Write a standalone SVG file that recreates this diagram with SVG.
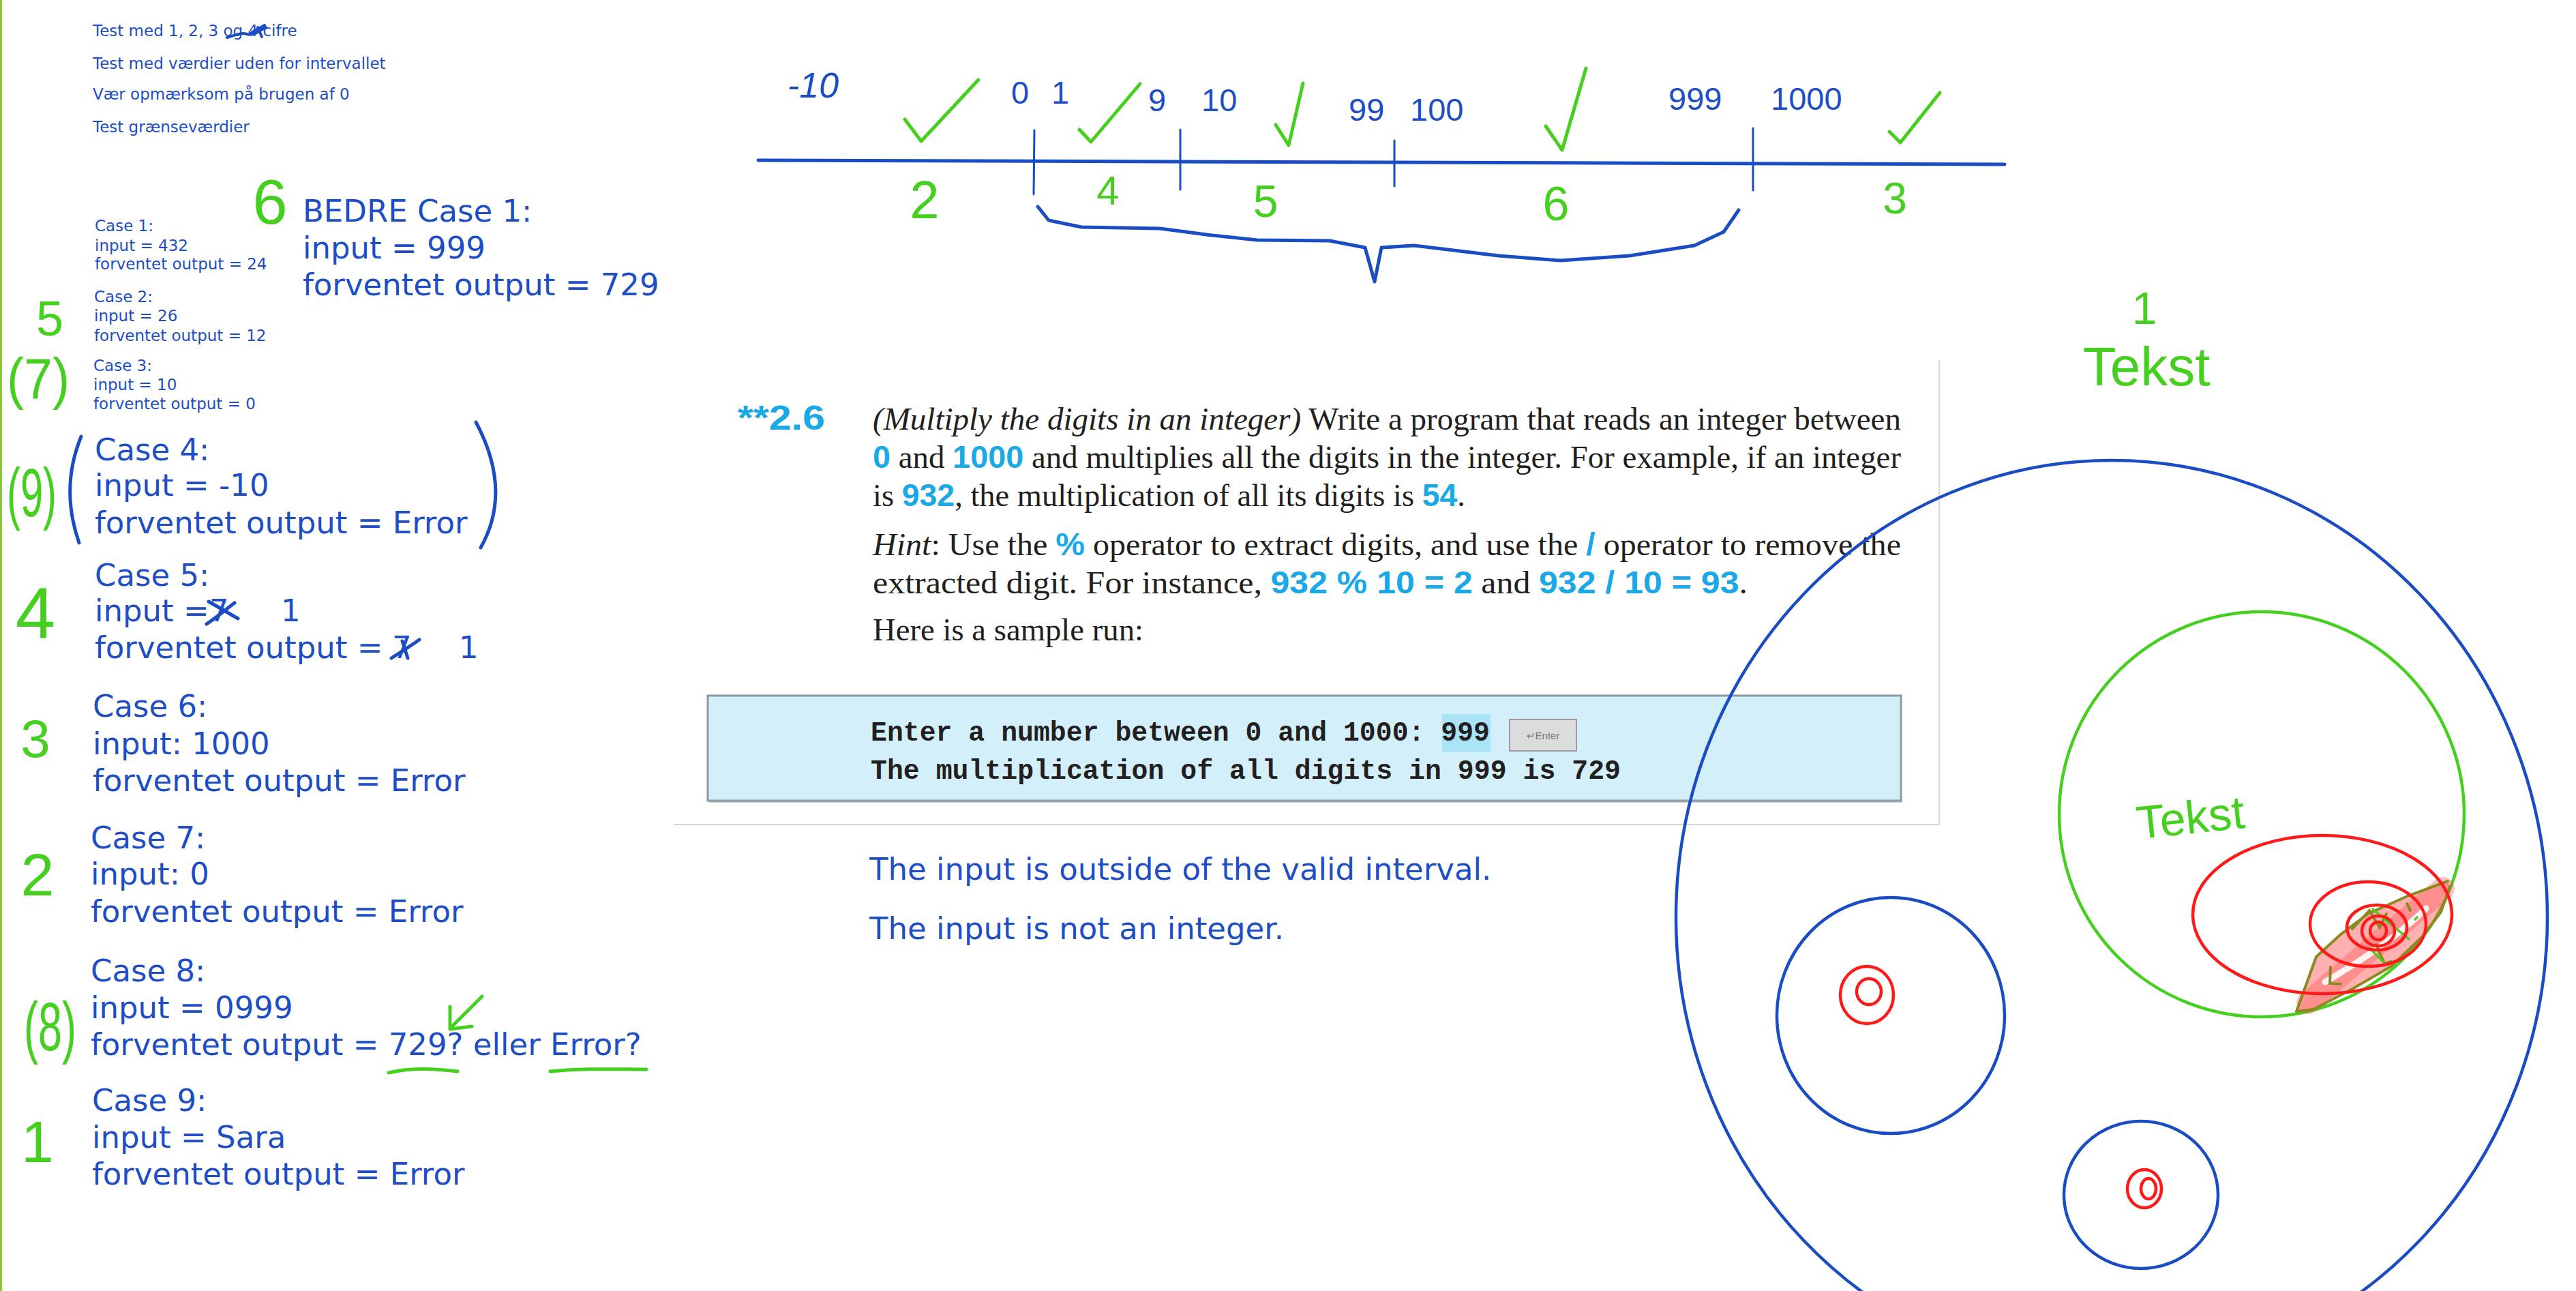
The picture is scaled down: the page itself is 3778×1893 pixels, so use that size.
<svg xmlns="http://www.w3.org/2000/svg" width="3778" height="1893" viewBox="0 0 3778 1893">
<style>
.t{font-family:"DejaVu Sans",Verdana,sans-serif;fill:#1d4ec6}
.s23{font-size:23px}
.s45{font-size:45px}
.num{font-family:"Liberation Sans",Arial,sans-serif;font-size:47px;fill:#1d4ec6}
.hw{font-family:"Liberation Sans",Arial,sans-serif;fill:#45d01f;text-anchor:middle}
.hwb{font-family:"Liberation Sans",Arial,sans-serif;fill:#1a4cc4}
.pen{fill:none;stroke:#1a4cc4;stroke-linecap:round;stroke-linejoin:round}
.gpen{fill:none;stroke:#45d01f;stroke-width:5;stroke-linecap:round;stroke-linejoin:round}
.rpen{fill:none;stroke:#ff1a1a;stroke-width:4.5}
.bk{font-family:"Liberation Serif","Times New Roman",serif;font-size:46px;fill:#231f20}
.cy{font-family:"Liberation Sans",Arial,sans-serif;font-weight:bold;fill:#1aa9e6}
.mono{font-family:"Liberation Mono","Courier New",monospace;font-weight:bold;font-size:40px;fill:#231f20}
</style>
<rect x="0" y="0" width="3778" height="1893" fill="#ffffff"/>
<line x1="1.5" y1="0" x2="1.5" y2="1893" stroke="#8dc63f" stroke-width="3"/>

<g id="notes">
<text class="t s23" x="136" y="53">Test med 1, 2, 3 og 4 cifre</text>
<path class="pen" stroke-width="4" d="M333,55 C345,52 352,47 362,50 C372,53 380,45 390,40 M370,47 L388,37 M378,40 L384,54"/>
<text class="t s23" x="136" y="101">Test med værdier uden for intervallet</text>
<text class="t s23" x="136" y="146">Vær opmærksom på brugen af 0</text>
<text class="t s23" x="136" y="194">Test grænseværdier</text>
</g>

<g id="case1">
<text class="t s23" x="139" y="339">Case 1:</text>
<text class="t s23" x="139" y="368">input = 432</text>
<text class="t s23" x="139" y="395">forventet output = 24</text>
</g>
<g id="case2">
<text class="t s23" x="138" y="443">Case 2:</text>
<text class="t s23" x="138" y="471">input = 26</text>
<text class="t s23" x="138" y="500">forventet output = 12</text>
</g>
<g id="case3">
<text class="t s23" x="137" y="544">Case 3:</text>
<text class="t s23" x="137" y="572">input = 10</text>
<text class="t s23" x="137" y="600">forventet output = 0</text>
</g>
<g id="bedre">
<text class="t s45" x="444" y="325">BEDRE Case 1:</text>
<text class="t s45" x="444" y="379">input = 999</text>
<text class="t s45" x="444" y="433">forventet output = 729</text>
</g>
<g id="case4">
<text class="t s45" x="139" y="675">Case 4:</text>
<text class="t s45" x="139" y="727">input = -10</text>
<text class="t s45" x="139" y="782">forventet output = Error</text>
<path class="pen" stroke-width="5" d="M119,640 Q88,716 116,796"/>
<path class="pen" stroke-width="5" d="M698,619 Q752,720 705,803"/>
</g>
<g id="case5">
<text class="t s45" x="139" y="859">Case 5:</text>
<text class="t s45" x="139" y="911">input =</text>
<text class="t s45" x="307" y="911">7</text>
<path class="pen" stroke-width="5" d="M306,882 L349,907 M303,915 C318,905 332,893 344,884"/>
<text class="t s45" x="412" y="911">1</text>
<text class="t s45" x="139" y="965">forventet output =</text>
<text class="t s45" x="575" y="965">7</text>
<path class="pen" stroke-width="5" d="M574,965 C590,955 605,945 615,938 M590,940 L598,965"/>
<text class="t s45" x="673" y="965">1</text>
</g>
<g id="case6">
<text class="t s45" x="136" y="1051">Case 6:</text>
<text class="t s45" x="136" y="1106">input: 1000</text>
<text class="t s45" x="136" y="1160">forventet output = Error</text>
</g>
<g id="case7">
<text class="t s45" x="133" y="1244">Case 7:</text>
<text class="t s45" x="133" y="1297">input: 0</text>
<text class="t s45" x="133" y="1352">forventet output = Error</text>
</g>
<g id="case8">
<text class="t s45" x="133" y="1439">Case 8:</text>
<text class="t s45" x="133" y="1493">input = 0999</text>
<text class="t s45" x="133" y="1547">forventet output = 729? eller Error?</text>
<path class="gpen" d="M570,1573 C600,1566 630,1566 671,1571"/>
<path class="gpen" d="M807,1571 C860,1566 900,1568 948,1568"/>
<path class="gpen" d="M707,1461 L663,1505 M660,1476 L660,1509 L692,1505"/>
</g>
<g id="case9">
<text class="t s45" x="135" y="1629">Case 9:</text>
<text class="t s45" x="135" y="1683">input = Sara</text>
<text class="t s45" x="135" y="1737">forventet output = Error</text>
</g>

<g id="ranks">
<text class="hw" x="396" y="328" font-size="92">6</text>
<text class="hw" x="73" y="492" font-size="72">5</text>
<text class="hw" x="10" y="584" font-size="84" textLength="92" lengthAdjust="spacingAndGlyphs" style="text-anchor:start">(7)</text>
<text class="hw" x="10" y="757" font-size="100" textLength="73" lengthAdjust="spacingAndGlyphs" style="text-anchor:start">(9)</text>
<text class="hw" x="52" y="936" font-size="105">4</text>
<text class="hw" x="52" y="1110" font-size="78">3</text>
<text class="hw" x="55" y="1313" font-size="88">2</text>
<text class="hw" x="35" y="1540" font-size="100" textLength="77" lengthAdjust="spacingAndGlyphs" style="text-anchor:start">(8)</text>
<text class="hw" x="55" y="1704" font-size="85">1</text>
</g>

<g id="numberline">
<path class="pen" stroke-width="5" d="M1112,235 L2940,241"/>
<path class="pen" stroke-width="3" d="M1517,191 L1516,285 M1731,190 L1731,278 M2045,206 L2045,273 M2571,188 L2571,279"/>
<text class="hwb" x="1155" y="143" font-size="52" font-style="italic">-10</text>
<text class="num" x="1483" y="152">0</text>
<text class="num" x="1542" y="152">1</text>
<text class="num" x="1684" y="163">9</text>
<text class="num" x="1762" y="163">10</text>
<text class="num" x="1978" y="177">99</text>
<text class="num" x="2068" y="177">100</text>
<text class="num" x="2447" y="161">999</text>
<text class="num" x="2597" y="161">1000</text>
<path class="gpen" d="M1327,175 L1351,207 L1435,117"/>
<path class="gpen" d="M1583,190 L1600,208 L1672,123"/>
<path class="gpen" d="M1871,183 L1890,213 L1911,122"/>
<path class="gpen" d="M2267,185 L2291,220 L2326,100"/>
<path class="gpen" d="M2771,193 L2787,209 L2845,136"/>
<text class="hw" x="1356" y="320" font-size="78">2</text>
<text class="hw" x="1625" y="300" font-size="60">4</text>
<text class="hw" x="1856" y="318" font-size="66">5</text>
<text class="hw" x="2282" y="323" font-size="70">6</text>
<text class="hw" x="2779" y="313" font-size="64">3</text>
<path class="pen" stroke-width="5" d="M1522,303 L1538,323 L1586,333 L1701,335 L1777,345 L1844,352 L1950,353 L2002,363 L2016,413 L2026,363 L2074,360 L2198,375 L2289,382 L2390,375 L2485,360 L2528,340 L2550,308"/>
</g>

<g id="textbook">
<path d="M2844,528 L2844,1209 L988,1209" fill="none" stroke="#d6d6d6" stroke-width="2"/>
<text class="cy" x="1082" y="630" font-size="50" textLength="128" lengthAdjust="spacingAndGlyphs">**2.6</text>
<text class="bk" x="1280" y="630" textLength="1508" lengthAdjust="spacingAndGlyphs"><tspan font-style="italic">(Multiply the digits in an integer)</tspan> Write a program that reads an integer between</text>
<text class="bk" x="1280" y="686" textLength="1508" lengthAdjust="spacingAndGlyphs"><tspan class="cy">0</tspan> and <tspan class="cy">1000</tspan> and multiplies all the digits in the integer. For example, if an integer</text>
<text class="bk" x="1280" y="742" textLength="869" lengthAdjust="spacingAndGlyphs">is <tspan class="cy">932</tspan>, the multiplication of all its digits is <tspan class="cy">54</tspan>.</text>
<text class="bk" x="1280" y="814" textLength="1508" lengthAdjust="spacingAndGlyphs"><tspan font-style="italic">Hint</tspan>: Use the <tspan class="cy">%</tspan> operator to extract digits, and use the <tspan class="cy">/</tspan> operator to remove the</text>
<text class="bk" x="1280" y="870" textLength="1283" lengthAdjust="spacingAndGlyphs">extracted digit. For instance, <tspan class="cy">932 % 10 = 2</tspan> and <tspan class="cy">932 / 10 = 93</tspan>.</text>
<text class="bk" x="1280" y="939" textLength="397" lengthAdjust="spacingAndGlyphs">Here is a sample run:</text>
<rect x="1038" y="1020" width="1750" height="154" fill="#d3f0fa" stroke="#8c9aa2" stroke-width="3"/>
<line x1="1040" y1="1175" x2="2790" y2="1175" stroke="#9aa6ac" stroke-width="3"/>
<rect x="2115" y="1047" width="71" height="56" fill="#a9e3f6"/>
<text class="mono" x="1277" y="1086" textLength="908" lengthAdjust="spacingAndGlyphs">Enter a number between 0 and 1000: 999</text>
<rect x="2214" y="1055" width="98" height="46" fill="#dcdcdc" stroke="#9c9c9c" stroke-width="2"/>
<text x="2263" y="1084" font-family="Liberation Sans,Arial,sans-serif" font-size="15" fill="#777" text-anchor="middle">↵Enter</text>
<text class="mono" x="1277" y="1142" textLength="1100" lengthAdjust="spacingAndGlyphs">The multiplication of all digits in 999 is 729</text>
</g>

<g id="answers">
<text class="t s45" x="1275" y="1290">The input is outside of the valid interval.</text>
<text class="t s45" x="1275" y="1377">The input is not an integer.</text>
</g>

<g id="tekst-label">
<text class="hw" x="3145" y="475" font-size="66">1</text>
<text class="hw" x="3148" y="565" font-size="80">Tekst</text>
</g>

<g id="circles">
<ellipse cx="3097" cy="1345" rx="639" ry="670" fill="none" stroke="#1a4cc4" stroke-width="4.5"/>
<ellipse cx="3317" cy="1194" rx="297" ry="297" fill="none" stroke="#45d01f" stroke-width="4.5"/>
<text class="hw" x="3215" y="1222" font-size="68" transform="rotate(-6 3215 1222)">Tekst</text>
<path d="M3368,1483 L3380,1450 L3397,1403 L3433,1370 L3473,1340 L3533,1313 L3590,1292 L3593,1300 L3580,1337 L3553,1373 L3507,1417 L3450,1450 L3393,1480 Z" fill="#ff5050" fill-opacity="0.45"/>
<path d="M3385,1470 L3583,1303" stroke="#ff5050" stroke-opacity="0.35" stroke-width="34" stroke-linecap="round" fill="none"/>
<path d="M3410,1440 C3470,1405 3520,1370 3558,1332" stroke="#ffffff" stroke-opacity="0.9" stroke-width="9" stroke-linecap="round" fill="none"/>
<path d="M3368,1483 L3380,1450 L3397,1403 L3433,1370 L3473,1340 L3533,1313 L3590,1292 M3593,1300 L3580,1337 L3553,1373 L3507,1417 L3450,1450 L3393,1480 L3368,1483" fill="none" stroke="#8a8a1e" stroke-width="4" stroke-linecap="round"/>
<path d="M3418,1418 L3417,1442 L3433,1443 M3450,1362 L3475,1335 L3490,1360 L3500,1340 M3485,1385 L3497,1413 L3507,1410 M3530,1325 L3535,1335" fill="none" stroke="#8a8a1e" stroke-width="4" stroke-linecap="round"/>
<path d="M3480,1333 L3500,1350 L3533,1377 M3475,1390 L3495,1410 M3545,1345 L3542,1348" fill="none" stroke="#45d01f" stroke-width="3.5" stroke-linecap="round"/>
<ellipse cx="3406" cy="1341" rx="190" ry="116" class="rpen"/>
<ellipse cx="3473" cy="1355" rx="85" ry="62" class="rpen"/>
<ellipse cx="3486" cy="1360" rx="44" ry="33" class="rpen"/>
<ellipse cx="3488" cy="1365" rx="24" ry="22" class="rpen"/>
<ellipse cx="3488" cy="1365" rx="12" ry="13" class="rpen" fill="#ff8080" fill-opacity="0.6"/>
<ellipse cx="2773" cy="1489" rx="167" ry="173" fill="none" stroke="#1a4cc4" stroke-width="4.5"/>
<ellipse cx="2738" cy="1459" rx="39" ry="42" class="rpen"/>
<ellipse cx="2741" cy="1454" rx="18" ry="19" class="rpen"/>
<ellipse cx="3140" cy="1752" rx="113" ry="108" fill="none" stroke="#1a4cc4" stroke-width="4.5"/>
<ellipse cx="3145" cy="1743" rx="25" ry="28" class="rpen"/>
<ellipse cx="3151" cy="1743" rx="11" ry="15" class="rpen"/>
</g>
</svg>
